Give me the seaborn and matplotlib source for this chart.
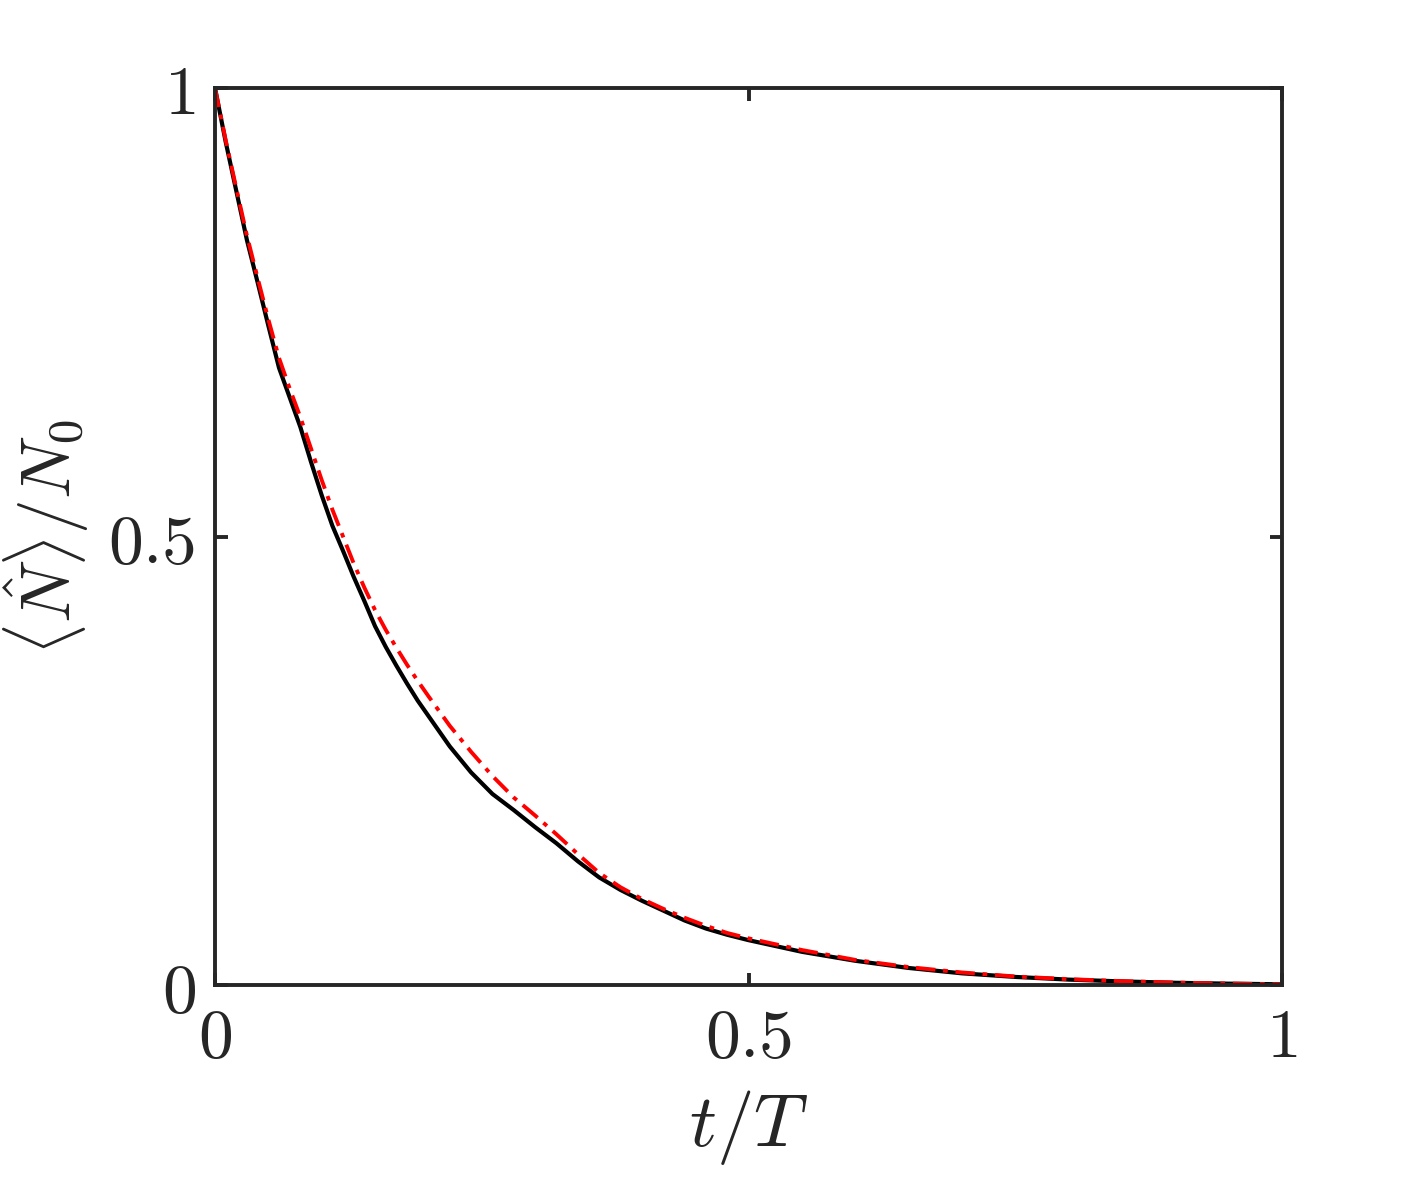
import numpy as np
import pandas as pd
import matplotlib
matplotlib.use("Agg")
import matplotlib.pyplot as plt
import seaborn as sns

t_vals = [0.0, 0.01, 0.02, 0.03, 0.04, 0.05, 0.06, 0.07, 0.08, 0.09, 0.10, 0.11, 0.12, 0.13,
          0.14, 0.15, 0.16, 0.17, 0.18, 0.19, 0.20, 0.22, 0.24,
          0.26, 0.28, 0.30, 0.32, 0.34, 0.36, 0.38, 0.40, 0.42, 0.44, 0.46, 0.48, 0.50,
          0.55, 0.60, 0.65, 0.70, 0.75, 0.80, 0.85, 0.90, 0.95, 1.0]
black_vals = [1.0, 0.94, 0.885, 0.83, 0.783, 0.735, 0.688, 0.655, 0.622, 0.583, 0.546, 0.512,
              0.484, 0.455, 0.428, 0.400, 0.377, 0.356, 0.336, 0.317, 0.300, 0.266, 0.237,
              0.213, 0.195, 0.176, 0.158, 0.138, 0.120, 0.106, 0.094, 0.083, 0.072, 0.063, 0.056, 0.050,
              0.037, 0.027, 0.019, 0.013, 0.009, 0.006, 0.004, 0.0025, 0.0015, 0.0008]
red_vals = [1.0, 0.942, 0.888, 0.835, 0.788, 0.742, 0.699, 0.665, 0.633, 0.598, 0.563, 0.530,
            0.500, 0.470, 0.443, 0.418, 0.396, 0.376, 0.357, 0.339, 0.322, 0.289, 0.260,
            0.233, 0.209, 0.189, 0.168, 0.146, 0.125, 0.109, 0.096, 0.085, 0.075, 0.066, 0.058, 0.052,
            0.039, 0.028, 0.020, 0.014, 0.0095, 0.0065, 0.0043, 0.0027, 0.0016, 0.0008]
x_ticks = [0, 0.5, 1]
y_ticks = [0, 0.5, 1]
x_tick_labels = ["$0$", "$0.5$", "$1$"]
y_tick_labels = ["$0$", "$0.5$", "$1$"]

sns.set_style("white")
plt.rcParams["mathtext.fontset"] = "cm"
plt.rcParams["font.family"] = ["DejaVu Sans"]

df_black = pd.DataFrame({"t": t_vals, "N": black_vals})
df_red = pd.DataFrame({"t": t_vals, "N": red_vals})

fig = plt.figure(figsize=(1417 / 200, 1181 / 200), dpi=200)
ax = fig.add_axes([215 / 1417, 1 - 985 / 1181, (1282 - 215) / 1417, (985 - 88) / 1181])

sns.lineplot(data=df_black, x="t", y="N", ax=ax, color="black", linewidth=1.5, linestyle="-")
sns.lineplot(data=df_red, x="t", y="N", ax=ax, color="#ff0000", linewidth=1.4,
             dashes=False, linestyle=(0, (5, 2, 1.2, 2)))

ax.set_xlim(0, 1)
ax.set_ylim(0, 1)
ax.set_xticks(x_ticks)
ax.set_yticks(y_ticks)
ax.set_xticklabels(x_tick_labels, fontsize=25)
ax.set_yticklabels(y_tick_labels, fontsize=25)
ax.tick_params(direction="in", length=4.5, width=1.4, colors="#262626", top=True, right=True,
               bottom=True, left=True, pad=7)
for s in ax.spines.values():
    s.set_color("#262626")
    s.set_linewidth(1.4)
ax.set_xlabel("$t/T$", fontsize=27, color="#262626", labelpad=6)
ax.set_ylabel(r"$\langle \hat{N} \rangle / N_0$", fontsize=25, color="#262626")
ax.yaxis.set_label_coords(-0.116, 0.5)

fig.savefig("out.png", dpi=200)
